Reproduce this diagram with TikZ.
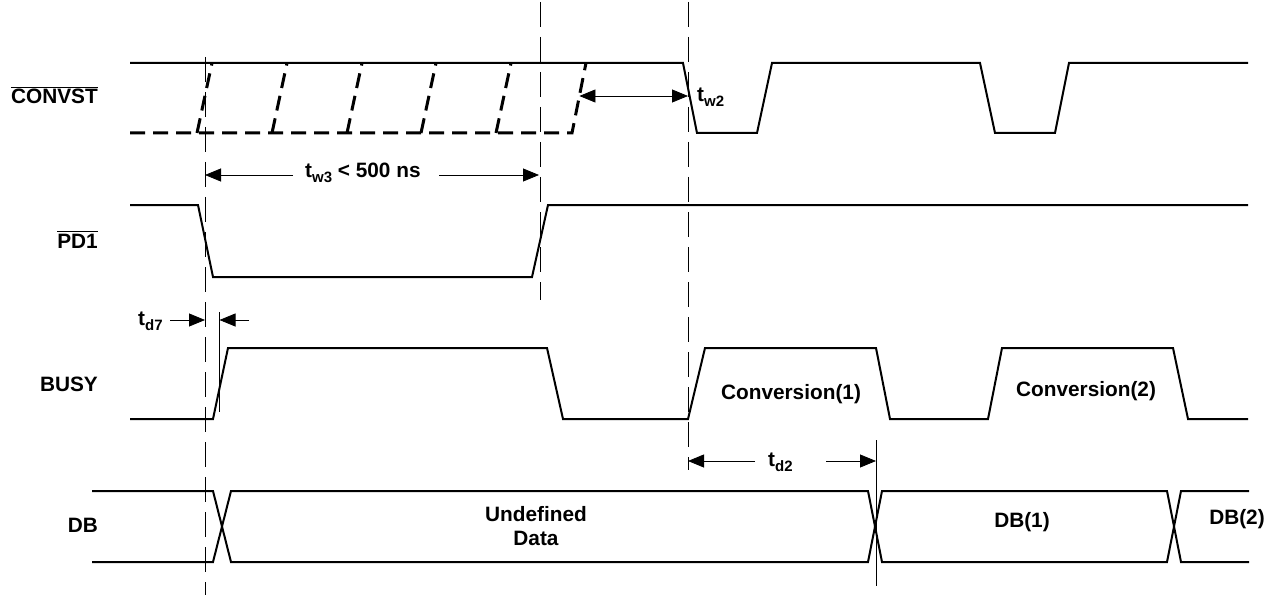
\documentclass[tikz,border=0pt]{standalone}
\usepackage{fontspec}
\setmainfont{Liberation Sans}
\usetikzlibrary{arrows.meta}
\newcommand{\tsub}[1]{\raisebox{-5pt}{\fontsize{15}{15}\selectfont #1}}
\begin{document}
\begin{tikzpicture}[x=1pt,y=-1pt,
  sig/.style={line width=2pt, line join=miter},
  dsig/.style={line width=3pt, dash pattern=on 15pt off 8pt},
  guide/.style={line width=0.8pt, dash pattern=on 25pt off 10pt},
  thinl/.style={line width=0.8pt},
  ovl/.style={line width=1pt},
  dim/.style={line width=0.8pt, -{Triangle[length=16pt,width=13pt]}},
  dimboth/.style={line width=0.8pt, {Triangle[length=16pt,width=13pt]}-{Triangle[length=16pt,width=13pt]}},
  lbl/.style={font=\fontsize{20.8}{24.5}\selectfont\bfseries, inner sep=0pt}
]
\useasboundingbox (0,0) rectangle (1276,596);

% guide lines
\draw[guide] (205,57) -- (205,595);
\draw[guide] (540,2) -- (540,300);
\draw[guide] (688,2) -- (688,470);
\draw[thinl] (876,440) -- (876,586);
\draw[thinl] (219.5,312) -- (219.5,412);

% CONVST
\draw[sig] (130,63) -- (683,63) -- (697,133) -- (757,133) -- (772,63) -- (980,63)
  -- (995,133) -- (1055,133) -- (1069,63) -- (1248,63);
\draw[dsig] (130,133) -- (572,133) -- (586,63);
\foreach \xb in {197,272,347,421,496}
  \draw[dsig] (\xb,133) -- (\xb+15,63);

% PD1
\draw[sig] (130,205) -- (198,205) -- (213,277) -- (532,277) -- (548,205) -- (1248,205);

% BUSY
\draw[sig] (130,419) -- (213,419) -- (228,348) -- (547,348) -- (563,419) -- (688,419)
  -- (705,348) -- (876,348) -- (890,419) -- (988,419) -- (1002,348) -- (1173,348)
  -- (1188,419) -- (1248,419);

% DB
\draw[sig] (92,491) -- (213,491) -- (231,562) -- (868,562) -- (882,491) -- (1167,491)
  -- (1181,562) -- (1249,562);
\draw[sig] (92,562) -- (213,562) -- (231,491) -- (868,491) -- (882,562) -- (1167,562)
  -- (1181,491) -- (1249,491);

% signal labels
\node[lbl, anchor=base east] (lconv) at (98,104) {CONVST};
\draw[ovl] ([yshift=2pt]lconv.north west) -- ([yshift=2pt]lconv.north east);
\node[lbl, anchor=base east] (lpd) at (98,248) {PD1};
\draw[ovl] ([yshift=2pt]lpd.north west) -- ([yshift=2pt]lpd.north east);
\node[lbl, anchor=base east] (lbusy) at (98,391.5) {BUSY};
\node[lbl, anchor=base east] (ldb) at (98,532.5) {DB};

% timing labels
\node[lbl, anchor=base west] (tw3) at (305,178) {t\tsub{w3} < 500 ns};
\node[lbl, anchor=base west] (tw2) at (697,102) {t\tsub{w2}};
\node[lbl, anchor=base west] (td7) at (138,325) {t\tsub{d7}};
\node[lbl, anchor=base west] (td2) at (768,466) {t\tsub{d2}};

% data labels
\node[lbl, anchor=base] (conv1) at (791,399) {Conversion(1)};
\node[lbl, anchor=base] (conv2) at (1086,396) {Conversion(2)};
\node[lbl, align=center] (undef) at (536,526) {Undefined\\Data};
\node[lbl, anchor=base] (db1) at (1022,527) {DB(1)};
\node[lbl, anchor=base] (db2) at (1237,524) {DB(2)};

% dimension arrows
\coordinate (w3a) at (293,175); \coordinate (w3l) at (205,175);
\coordinate (w3b) at (439,175); \coordinate (w3r) at (539,175);
\draw[dim] (w3a) -- (w3l);
\draw[dim] (w3b) -- (w3r);
\coordinate (w2l) at (579.4,96); \coordinate (w2r) at (688,96);
\draw[dimboth] (w2l) -- (w2r);
\coordinate (d7a) at (170,320); \coordinate (d7l) at (205,320);
\coordinate (d7b) at (249,320); \coordinate (d7r) at (219.5,320);
\draw[dim] (d7a) -- (d7l);
\draw[dim] (d7b) -- (d7r);
\coordinate (d2a) at (755,461); \coordinate (d2l) at (688,461);
\coordinate (d2b) at (826,461); \coordinate (d2r) at (876,461);
\draw[dim] (d2a) -- (d2l);
\draw[dim] (d2b) -- (d2r);
\end{tikzpicture}
\end{document}
